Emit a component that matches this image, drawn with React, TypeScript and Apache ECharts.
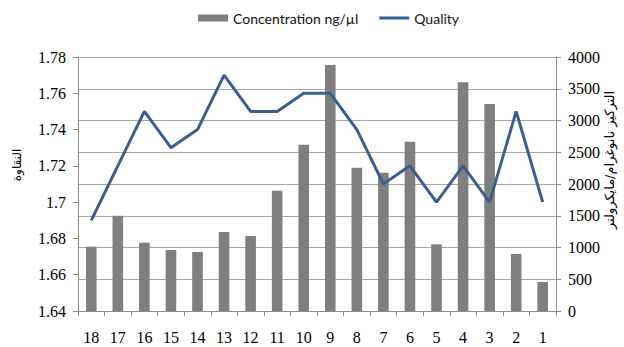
import React, { useEffect, useRef } from "react";
import * as echarts from "echarts";

const categories = ["18", "17", "16", "15", "14", "13", "12", "11", "10", "9", "8", "7", "6", "5", "4", "3", "2", "1"];
const concentration = [1013, 1501, 1076, 961, 929, 1244, 1181, 1895, 2620, 3874, 2257, 2179, 2667, 1050, 3602, 3260, 898, 457];
const quality = [1.69, 1.72, 1.75, 1.73, 1.74, 1.77, 1.75, 1.75, 1.76, 1.76, 1.74, 1.71, 1.72, 1.70, 1.72, 1.70, 1.75, 1.70];
const seriesNames = ["Concentration ng/\u00b5l", "Quality"];
const leftTitle = "النقاوة";
const rightTitle = "التركيز نانوغرام/مايكرولتر";

export default function App() {
  const ref = useRef<HTMLDivElement>(null);
  useEffect(() => {
    if (!ref.current) return;
    const chart = echarts.init(ref.current, null, { renderer: "svg" });
    const serif = "Liberation Serif";
    chart.setOption({
      animation: false,
      textStyle: { fontFamily: serif },
      legend: {
        top: 6,
        left: 193,
        itemWidth: 30,
        itemHeight: 7,
        itemGap: 21,
        textStyle: { fontFamily: "Lato", fontSize: 14, color: "#111" },
        data: [
          { name: seriesNames[0], icon: "rect" },
          { name: seriesNames[1], icon: "path://M0,0M30,7M0,2L30,2L30,5L0,5Z" },
        ],
      },
      graphic: [
        {
          type: "text",
          x: 17,
          y: 165,
          rotation: Math.PI / 2,
          style: { text: leftTitle, font: "12px 'DejaVu Sans'", fill: "#000", textAlign: "center", textVerticalAlign: "middle" },
        },
        {
          type: "text",
          x: 609,
          y: 160,
          rotation: Math.PI / 2,
          style: { text: rightTitle, font: "13px 'DejaVu Sans'", fill: "#000", textAlign: "center", textVerticalAlign: "middle" },
        },
      ],
      grid: { left: 78, right: 68, top: 57, bottom: 36 },
      xAxis: {
        type: "category",
        data: categories,
        boundaryGap: true,
        axisLine: { lineStyle: { color: "#8c8c8c", width: 1 } },
        axisTick: { show: true, length: 5, lineStyle: { color: "#8c8c8c" } },
        axisLabel: { fontFamily: serif, fontSize: 16, color: "#000", margin: 18 },
      },
      yAxis: [
        {
          type: "value",
          min: 1.64,
          max: 1.78,
          interval: 0.02,
          position: "left",
          axisLine: { show: true, lineStyle: { color: "#8c8c8c" } },
          axisTick: { show: true, length: 5, lineStyle: { color: "#8c8c8c" } },
          axisLabel: {
            fontFamily: serif,
            fontSize: 16,
            color: "#000",
            margin: 12,
            formatter: (v: number) => String(Math.round(v * 100) / 100),
          },
          splitLine: { show: false },
        },
        {
          type: "value",
          min: 0,
          max: 4000,
          interval: 500,
          position: "right",
          axisLine: { show: true, lineStyle: { color: "#8c8c8c" } },
          axisTick: { show: true, length: 5, lineStyle: { color: "#8c8c8c" } },
          axisLabel: { fontFamily: serif, fontSize: 16, color: "#000", margin: 12, formatter: (v: number) => String(v) },
          splitLine: { show: true, lineStyle: { color: "#a6a6a6", width: 1 } },
        },
      ],
      series: [
        {
          name: seriesNames[0],
          type: "bar",
          yAxisIndex: 1,
          data: concentration,
          barWidth: "40%",
          itemStyle: { color: "#7f7f7f" },
          z: 2,
        },
        {
          name: seriesNames[1],
          type: "line",
          yAxisIndex: 0,
          data: quality,
          symbol: "none",
          lineStyle: { color: "#3a5f8e", width: 3 },
          itemStyle: { color: "#3a5f8e" },
          z: 3,
        },
      ],
    });
    return () => chart.dispose();
  }, []);
  return <div ref={ref} style={{ width: 624, height: 347, position: "absolute", left: 0, top: 0 }} />;
}
